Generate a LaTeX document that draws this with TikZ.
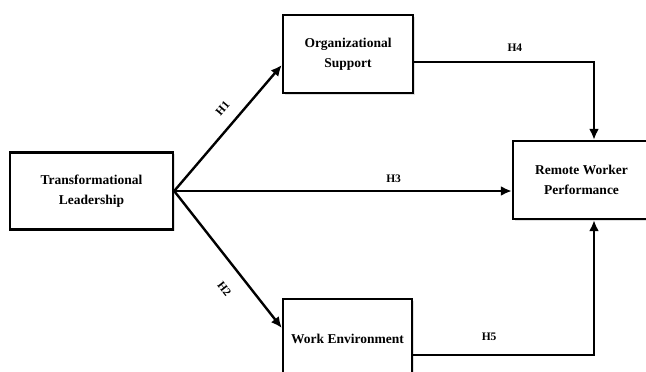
\documentclass[tikz,border=0pt]{standalone}
\usepackage{fontspec}
\setmainfont{Liberation Serif}
\usetikzlibrary{arrows.meta,shadows}

\begin{document}
\begin{tikzpicture}[x=1pt,y=-1pt,
		box/.style={draw,line width=2.4pt,fill=white,align=center,inner sep=0pt,
			font=\bfseries\fontsize{13.5}{20}\selectfont,
			drop shadow={opacity=.25,shadow xshift=1.5pt,shadow yshift=-1.5pt}},
		arr/.style={line width=2.4pt,-{Latex[length=11pt,width=10pt]}},
		hyp/.style={font=\bfseries\fontsize{11.5}{14}\selectfont,inner sep=0pt}]
			\useasboundingbox (0,0) rectangle (646,372);
			\node[box,minimum width=163pt,minimum height=77pt] (tl) at (91.5,191) {Transformational\\Leadership};
			\node[box,minimum width=130pt,minimum height=78pt] (os) at (348,54) {Organizational\\Support};
			\node[box,minimum width=129pt,minimum height=80pt] (we) at (347.5,339) {Work Environment};
			\node[box,minimum width=137pt,minimum height=78pt] (rwp) at (581.5,180) {Remote Worker\\Performance};
			\draw[arr] (tl.east) -- ([yshift=-11pt]os.west) node[hyp,pos=.57,sloped,above=12pt] (h1) {H1};
			\draw[arr] (tl.east) -- ([yshift=11pt]we.west) node[hyp,pos=.62,sloped,below=16pt] (h2) {H2};
			\draw[arr] (tl.east) -- (tl.east -| rwp.west) node[hyp,pos=.65,above=7pt] (h3) {H3};
			\draw[arr] ([yshift=-8pt]os.east) -| ([xshift=12.5pt]rwp.north) node[hyp,pos=.28,above=9pt] (h4) {H4};
			\draw[arr] ([yshift=-16pt]we.east) -| ([xshift=12.5pt]rwp.south) node[hyp,pos=.21,above=13pt] (h5) {H5};
\end{tikzpicture}
\end{document}
